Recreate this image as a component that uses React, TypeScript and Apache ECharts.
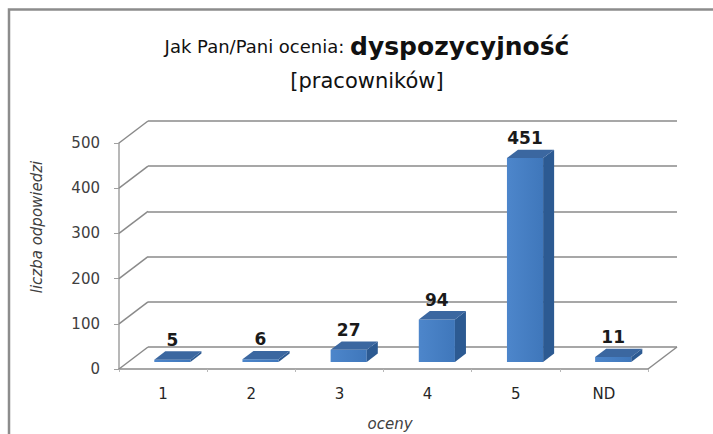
import React, { useEffect, useRef } from "react";
import * as echarts from "echarts";

const categories = ["1", "2", "3", "4", "5", "ND"];
const counts = [5, 6, 27, 94, 451, 11];
const yTicks = [0, 100, 200, 300, 400, 500];

const DX = 29; // depth offset x (px)
const DY = 22; // depth offset y (px)
const D0 = 0.32;
const D1 = 0.7;
const GRID = { left: 119, top: 143, right: 65, bottom: 65 };
const LINE = "#8a8a8a";
const FONT = "DejaVu Sans";

export default function App() {
  const ref = useRef<HTMLDivElement>(null);
  useEffect(() => {
    const chart = echarts.init(ref.current!, undefined, { renderer: "svg" });
    const option: any = {
      animation: false,
      backgroundColor: "#ffffff",
      grid: [
        { ...GRID },
        {
          left: GRID.left + DX,
          top: GRID.top - DY,
          right: GRID.right - DX,
          bottom: GRID.bottom + DY,
        },
      ],
      xAxis: [
        {
          type: "category",
          gridIndex: 0,
          data: categories,
          axisLine: { lineStyle: { color: LINE, width: 1.5 } },
          axisTick: { show: true, length: 3, lineStyle: { color: "#b8b8b8" } },
          axisLabel: {
            margin: 17,
            fontSize: 15,
            color: "#262626",
            fontFamily: FONT,
          },
        },
        {
          type: "category",
          gridIndex: 1,
          data: categories,
          show: false,
        },
      ],
      yAxis: [
        {
          type: "value",
          gridIndex: 0,
          min: 0,
          max: 500,
          interval: 100,
          splitLine: { show: false },
          axisLine: { show: true, lineStyle: { color: "#a0a0a0", width: 1.5 } },
          axisTick: { show: true, length: 5, lineStyle: { color: "#a0a0a0" } },
          axisLabel: {
            margin: 19,
            fontSize: 15,
            color: "#404040",
            fontFamily: FONT,
          },
        },
        {
          type: "value",
          gridIndex: 1,
          min: 0,
          max: 500,
          interval: 100,
          axisLine: { show: false },
          axisTick: { show: false },
          axisLabel: { show: false },
          splitLine: { show: true, lineStyle: { color: LINE, width: 1.5 } },
        },
      ],
      series: [
        {
          type: "line",
          xAxisIndex: 1,
          yAxisIndex: 1,
          data: [],
          silent: true,
        },
        {
          type: "custom",
          xAxisIndex: 0,
          yAxisIndex: 0,
          silent: true,
          data: yTicks.map((v) => [0, v]),
          renderItem: (params: any, api: any) => {
            const cs = params.coordSys;
            const v = api.value(1);
            const y = api.coord([0, v])[1];
            const children: any[] = [
              {
                type: "line",
                shape: { x1: cs.x, y1: y, x2: cs.x + DX, y2: y - DY },
                style: { stroke: LINE, lineWidth: 1.5 },
              },
            ];
            if (v === 0) {
              children.push({
                type: "line",
                shape: {
                  x1: cs.x + cs.width,
                  y1: y,
                  x2: cs.x + cs.width + DX,
                  y2: y - DY,
                },
                style: { stroke: LINE, lineWidth: 1.5 },
              });
            }
            return { type: "group", children };
          },
        },
        {
          type: "custom",
          xAxisIndex: 0,
          yAxisIndex: 0,
          silent: true,
          z: 5,
          data: counts.map((v, i) => [i, v]),
          renderItem: (params: any, api: any) => {
            const idx = api.value(0);
            const v = api.value(1);
            const base = api.coord([idx, 0]);
            const top = api.coord([idx, v]);
            const cw = api.size([1, 0])[0];
            const bw = cw * 0.41;
            const x0 = base[0] - bw / 2 + DX * D0;
            const x1 = x0 + bw;
            const yb = base[1] - DY * D0;
            const yt = top[1] - DY * D0;
            const ddx = DX * (D1 - D0);
            const ddy = DY * (D1 - D0);
            return {
              type: "group",
              children: [
                {
                  type: "rect",
                  shape: { x: x0, y: yt, width: bw, height: Math.max(yb - yt, 0.5) },
                  style: {
                    fill: new echarts.graphic.LinearGradient(0, 0, 1, 0, [
                      { offset: 0, color: "#4d86cb" },
                      { offset: 1, color: "#3f77bb" },
                    ]),
                  },
                },
                {
                  type: "polygon",
                  shape: {
                    points: [
                      [x1, yb],
                      [x1, yt],
                      [x1 + ddx, yt - ddy],
                      [x1 + ddx, yb - ddy],
                    ],
                  },
                  style: { fill: "#2c5a92" },
                },
                {
                  type: "polygon",
                  shape: {
                    points: [
                      [x0, yt],
                      [x1, yt],
                      [x1 + ddx, yt - ddy],
                      [x0 + ddx, yt - ddy],
                    ],
                  },
                  style: { fill: "#3b67a0" },
                },
                {
                  type: "text",
                  x: x0 + bw / 2,
                  y: yt - ddy - 3,
                  style: {
                    text: String(v),
                    align: "center",
                    verticalAlign: "bottom",
                    fontSize: 17,
                    fontWeight: "bold",
                    fontFamily: FONT,
                    fill: "#1a1a1a",
                  },
                },
              ],
            };
          },
        },
      ],
      graphic: [
        {
          type: "rect",
          z: -10,
          shape: { x: 9, y: 9.5, width: 800, height: 600 },
          style: { fill: "none", stroke: "#8c8c8c", lineWidth: 2.5 },
        },
        {
          type: "text",
          x: 367,
          y: 46,
          style: {
            text: "{a|Jak Pan/Pani ocenia: }{b|dyspozycyjność}",
            align: "center",
            verticalAlign: "middle",
            rich: {
              a: { fontSize: 18, fontFamily: FONT, fill: "#111111", color: "#111111" },
              b: {
                fontSize: 25,
                fontWeight: "bold",
                fontFamily: FONT,
                fill: "#111111",
                color: "#111111",
              },
            },
          },
        },
        {
          type: "text",
          x: 367,
          y: 81,
          style: {
            text: "[pracowników]",
            align: "center",
            verticalAlign: "middle",
            fontSize: 21,
            fontFamily: FONT,
            fill: "#111111",
          },
        },
        {
          type: "text",
          x: 37,
          y: 227,
          rotation: Math.PI / 2,
          style: {
            text: "liczba odpowiedzi",
            align: "center",
            verticalAlign: "middle",
            fontSize: 15,
            fontStyle: "italic",
            fontFamily: FONT,
            fill: "#404040",
          },
        },
        {
          type: "text",
          x: 390,
          y: 424,
          style: {
            text: "oceny",
            align: "center",
            verticalAlign: "middle",
            fontSize: 15,
            fontStyle: "italic",
            fontFamily: FONT,
            fill: "#404040",
          },
        },
      ],
    };
    chart.setOption(option);
    return () => chart.dispose();
  }, []);
  return (
    <div
      ref={ref}
      style={{ position: "fixed", left: 0, top: 0, width: 713, height: 434 }}
    />
  );
}
